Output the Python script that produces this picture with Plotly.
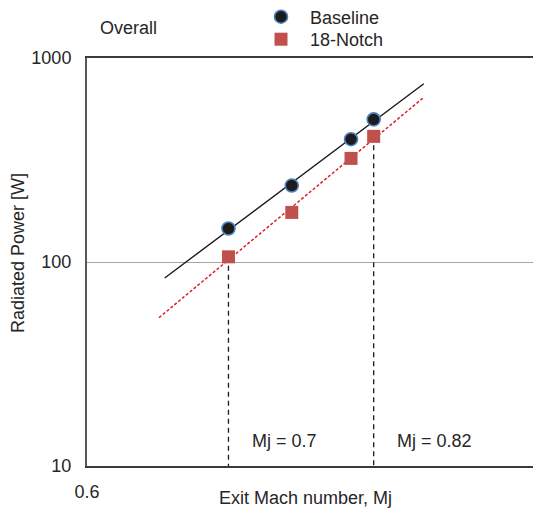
import numpy as np
import plotly.graph_objects as go

# ---- data ----
mach = [0.70, 0.75, 0.80, 0.82]
baseline_power = [146, 237, 400, 500]
notch_power = [106, 175, 322, 413]
trend_range_baseline = [0.653, 0.866]
trend_range_notch = [0.649, 0.866]
marked_mach = [0.70, 0.82]
marked_labels = ["Mj = 0.7", "Mj = 0.82"]
y_ticks = [10, 100, 1000]
y_tick_labels = ["10", "100", "1000"]
x_ticks = [0.6]
x_tick_labels = ["0.6"]

FONT = "Liberation Sans, Arial, sans-serif"
TXT = "#262626"

# page offset of the plotly div (default body margin)
OFF = 8
PAGE_W, PAGE_H = 541, 510
PLOT_L, PLOT_T, PLOT_B = 87, 58, 466  # plot area in page pixels

W, H = PAGE_W - OFF, PAGE_H - OFF
ML, MR, MT, MB = PLOT_L - OFF, 0, PLOT_T - OFF, PAGE_H - PLOT_B
PW, PH = W - ML - MR, H - MT - MB


def px_x(px):
    return (px - PLOT_L) / PW


def px_y(py):
    return (PLOT_B - py) / PH


def power_fit(xs, ys, xr):
    k, c = np.polyfit(np.log10(xs), np.log10(ys), 1)
    xx = np.linspace(xr[0], xr[1], 50)
    return xx, 10 ** (c + k * np.log10(xx))


fig = go.Figure()

# dashed markers of the two Mach numbers
for m in marked_mach:
    i = mach.index(m)
    fig.add_trace(go.Scatter(
        x=[m, m], y=[notch_power[i], y_ticks[0]], mode="lines",
        line=dict(color="#1a1a1a", width=1.3, dash="5px,4px"),
        showlegend=False, hoverinfo="skip"))

# trend lines
bx, by = power_fit(mach, baseline_power, trend_range_baseline)
fig.add_trace(go.Scatter(x=bx, y=by, mode="lines",
                         line=dict(color="#1a1a1a", width=1.4),
                         showlegend=False, hoverinfo="skip"))
nx, ny = power_fit(mach, notch_power, trend_range_notch)
fig.add_trace(go.Scatter(x=nx, y=ny, mode="lines",
                         line=dict(color="#d9202a", width=1.5, dash="3px,2px"),
                         showlegend=False, hoverinfo="skip"))

# data points
fig.add_trace(go.Scatter(
    x=mach, y=baseline_power, mode="markers", name="Baseline",
    marker=dict(symbol="circle", size=13, color="#1c1c1c",
                line=dict(color="#4f81bd", width=1.6)),
    legend="legend"))
fig.add_trace(go.Scatter(
    x=mach, y=notch_power, mode="markers", name="18-Notch",
    marker=dict(symbol="square", size=13, color="#c0504d",
                line=dict(width=0)),
    legend="legend2"))

annotations = [
    dict(text="Overall", x=px_x(128), y=px_y(28), xref="paper", yref="paper",
         showarrow=False, xanchor="center", yanchor="middle",
         font=dict(family=FONT, size=18, color=TXT)),
    dict(text="Exit Mach number, Mj", x=px_x(305), y=px_y(498),
         xref="paper", yref="paper", showarrow=False,
         xanchor="center", yanchor="middle",
         font=dict(family=FONT, size=18, color=TXT)),
    dict(text="Radiated Power [W]", x=px_x(18), y=px_y(253),
         xref="paper", yref="paper", showarrow=False, textangle=-90,
         xanchor="center", yanchor="middle",
         font=dict(family=FONT, size=18, color=TXT)),
]
label_px = [284, 434]
for lab, lx in zip(marked_labels, label_px):
    annotations.append(dict(
        text=lab, x=px_x(lx), y=px_y(441), xref="paper", yref="paper",
        showarrow=False, xanchor="center", yanchor="middle",
        font=dict(family=FONT, size=18, color=TXT)))

leg_common = dict(font=dict(family=FONT, size=18, color=TXT),
                  bgcolor="rgba(0,0,0,0)", borderwidth=0,
                  xanchor="left", yanchor="middle", itemwidth=48)

fig.update_layout(
    width=W, height=H, autosize=False,
    margin=dict(l=ML, r=MR, t=MT, b=MB, pad=0, autoexpand=False),
    paper_bgcolor="white", plot_bgcolor="white",
    font=dict(family=FONT, size=18, color=TXT),
    showlegend=True,
    legend=dict(x=px_x(252), y=px_y(17), **leg_common),
    legend2=dict(x=px_x(252), y=px_y(39.5), **leg_common),
    annotations=annotations,
    xaxis=dict(type="log", range=[np.log10(0.6), np.log10(0.984)],
               tickmode="array", tickvals=x_ticks, ticktext=x_tick_labels,
               showgrid=False, zeroline=False, ticks="",
               showline=True, linecolor="#3a3a3a", linewidth=2, mirror=True,
               ticklabelstandoff=8,
               tickfont=dict(family=FONT, size=18, color=TXT)),
    yaxis=dict(type="log", range=[1, 3],
               tickmode="array", tickvals=y_ticks, ticktext=y_tick_labels,
               showgrid=True, gridcolor="#a6a6a6", gridwidth=1.3,
               zeroline=False, ticks="",
               showline=True, linecolor="#595959", linewidth=2, mirror=False,
               ticklabelstandoff=10,
               tickfont=dict(family=FONT, size=18, color=TXT)),
)

fig.write_html("out.html")
